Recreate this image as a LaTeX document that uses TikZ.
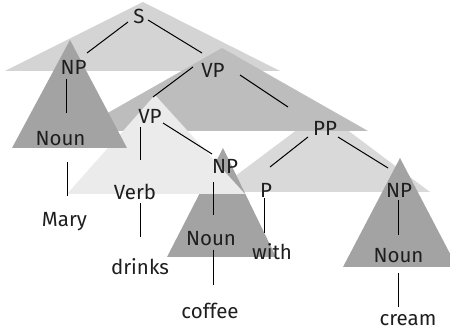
\documentclass[tikz,border=0pt]{standalone}
\usepackage{fontspec}
\setmainfont{Fira Sans}
\usetikzlibrary{calc}
\definecolor{shadeS}{HTML}{D4D4D4}
\definecolor{shadeVP}{HTML}{BDBDBD}
\definecolor{shadeVPl}{HTML}{EBEBEB}
\definecolor{shadePP}{HTML}{D9D9D9}
\definecolor{shadeNP}{HTML}{A3A3A3}
\definecolor{ink}{HTML}{1E1E1E}
\begin{document}
\begin{tikzpicture}[x=1pt,y=-1pt,
  lbl/.style={inner sep=0pt, text=ink, font=\fontsize{20.5}{23}\selectfont},
  edge/.style={draw=black, line width=1pt}]
\useasboundingbox (0,0) rectangle (450,331);
\clip (0,0) rectangle (450,331);

% constituent shading, back to front
\fill[shadeS]   (143,2)   -- (5,71)   -- (280,71)  -- cycle;
\fill[shadePP]  (322,111) -- (214,192) -- (430,192) -- cycle;
\fill[shadeVP]  (222,48)  -- (76,131)  -- (368,131) -- cycle;
\fill[shadeNP]  (223,148) -- (167,257) -- (276,257) -- cycle;
\fill[shadeVPl] (155,95)  -- (67,194)  -- (245,194) -- cycle;
\fill[shadeNP]  (70,40)   -- (12,148)  -- (127,148) -- cycle;
\fill[shadeNP]  (400,158) -- (343,267) -- (457,267) -- cycle;

% labels
\node[lbl] (S)      at (139,16)    {S};
\node[lbl] (NPa)    at (73.5,67.5) {NP};
\node[lbl] (Nouna)  at (60.5,138.5){Noun};
\node[lbl] (Mary)   at (64.5,222)  {Mary};
\node[lbl] (VPa)    at (213,70)    {VP};
\node[lbl] (VPb)    at (150,116)   {VP};
\node[lbl] (Verb)   at (135,192)   {Verb};
\node[lbl] (drinks) at (140,267)   {drinks};
\node[lbl] (NPb)    at (225,166)   {NP};
\node[lbl] (Nounb)  at (211,239)   {Noun};
\node[lbl] (coffee) at (210,311)   {coffee};
\node[lbl] (PP)     at (325,128)   {PP};
\node[lbl] (P)      at (266,190)   {P};
\node[lbl] (with)   at (272,252)   {with};
\node[lbl] (NPc)    at (399,190)   {NP};
\node[lbl] (Nounc)  at (398.5,255.5){Noun};
\node[lbl] (cream)  at (408,320)   {cream};

% branches
\draw[edge] ($(S)+(-11,6)$)      -- ($(NPa)+(13.5,-14.5)$);
\draw[edge] ($(S)+(9,4)$)        -- ($(VPa)+(-11,-17)$);
\draw[edge] ($(NPa)+(-7.5,11.5)$) -- ($(Nouna)+(5.5,-25.5)$);
\draw[edge] ($(Nouna)+(6.5,23.5)$) -- ($(Mary)+(2.5,-26)$);
\draw[edge] ($(VPa)+(-20,-3)$)   -- ($(VPb)+(3,-19)$);
\draw[edge] ($(VPa)+(27,5)$)     -- ($(PP)+(-37,-21)$);
\draw[edge] ($(VPb)+(-10,11)$)   -- ($(Verb)+(5,-32)$);
\draw[edge] ($(VPb)+(13,7)$)     -- ($(NPb)+(-13,-12)$);
\draw[edge] ($(Verb)+(5,11)$)    -- ($(drinks)+(0,-30)$);
\draw[edge] ($(NPb)+(-12,16)$)   -- ($(Nounb)+(2,-24)$);
\draw[edge] ($(Nounb)+(2,11)$)   -- ($(coffee)+(3,-26)$);
\draw[edge] ($(PP)+(-17,9)$)     -- ($(P)+(4,-23)$);
\draw[edge] ($(PP)+(13,9)$)      -- ($(NPc)+(-11,-22)$);
\draw[edge] ($(P)+(-2,8)$)       -- ($(with)+(-8,-19)$);
\draw[edge] ($(NPc)+(-1,10)$)    -- ($(Nounc)+(-0.5,-20.5)$);
\draw[edge] ($(Nounc)+(-0.5,17.5)$) -- ($(cream)+(-10,-13)$);
\end{tikzpicture}
\end{document}
